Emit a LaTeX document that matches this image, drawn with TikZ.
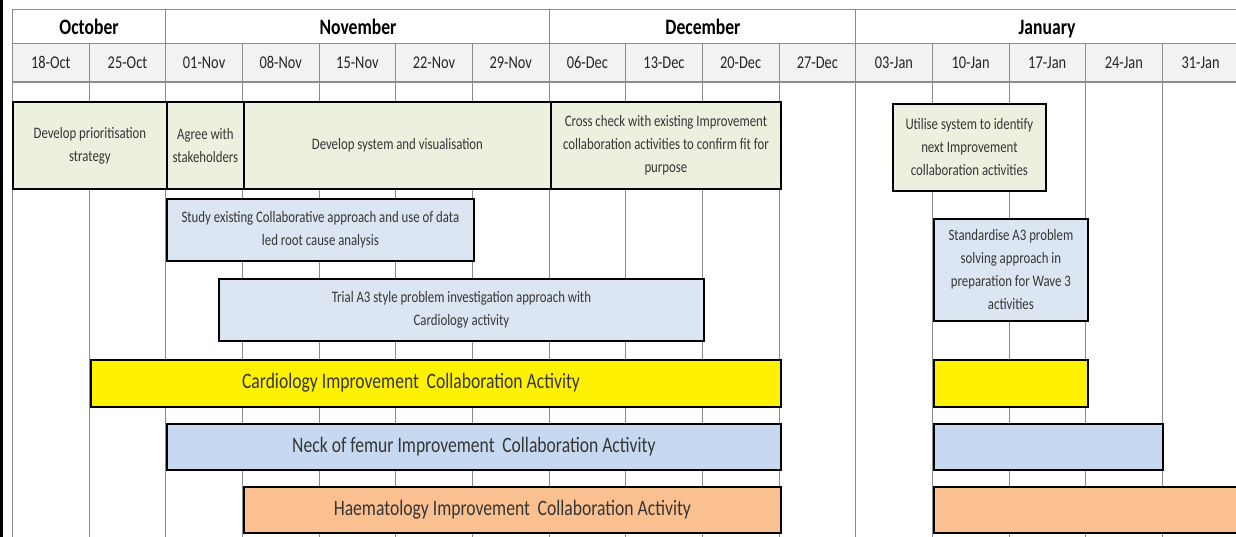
\documentclass[tikz,border=0pt]{standalone}
\usepackage{fontspec}
\setmainfont[FakeStretch=0.8]{Carlito}

\definecolor{gridgray}{HTML}{8C8C8C}
\definecolor{weekgray}{HTML}{F2F2F2}
\definecolor{taskgreen}{HTML}{EBF1DE}
\definecolor{taskblue}{HTML}{DCE6F2}
\definecolor{femurblue}{HTML}{C6D9F1}
\definecolor{haemorange}{HTML}{FAC090}
\definecolor{textgray}{HTML}{363636}

\begin{document}
\begin{tikzpicture}[x=1pt, y=-1pt,
    grid/.style={draw=gridgray, line width=0.8pt},
    month/.style={font=\fontsize{22}{24}\selectfont\bfseries, text height=14pt, text depth=4pt},
    week/.style={font=\fontsize{18}{20}\selectfont, text=black!85, text height=12pt, text depth=3pt},
    task/.style={draw=black, line width=1.8pt, align=center, text=textgray,
        font=\fontsize{16}{23}\selectfont, inner sep=0pt, anchor=north west},
    bar/.style={draw=black, line width=1.8pt, text=textgray,
        font=\fontsize{22}{24}\selectfont, inner sep=0pt, anchor=north west}]
    \useasboundingbox (0,0) rectangle (1236,537);
    \fill[white] (0,0) rectangle (1236,537);
    \fill[black] (0,0) rectangle (3,537);

    % Draw header rows and grid
    \fill[weekgray] (12,43) rectangle (1236,81);
    \draw[grid] (12,9) -- (1236,9);
    \draw[grid] (12,43) -- (1236,43);
    \draw[grid, line width=1.8pt] (12,82) -- (1236,82);
    \draw[grid] (12,9) -- (12,537);
    \foreach \i in {2,7,11}
        \draw[grid] ({12.5+76.65*\i},9) -- ({12.5+76.65*\i},43);
    \foreach \i in {1,...,15}
        \draw[grid] ({12.5+76.65*\i},43) -- ({12.5+76.65*\i},537);

    % Draw month and week labels
    \node[month] (oct) at (89,29.5) {October};
    \node[month] (nov) at (358,29.5) {November};
    \node[month] (dec) at (703,29.5) {December};
    \node[month] (jan) at (1047,29.5) {January};
    \foreach \w [count=\i from 0] in {18-Oct,25-Oct,01-Nov,08-Nov,15-Nov,22-Nov,29-Nov,
        06-Dec,13-Dec,20-Dec,27-Dec,03-Jan,10-Jan,17-Jan,24-Jan,31-Jan}
        \node[week] (w\i) at ({50.8+76.65*\i},64) {\w};

    % Draw planning tasks
    \node[task, fill=taskgreen, minimum width=154pt, minimum height=87pt] (prio) at (12,101)
        {Develop prioritisation\\strategy};
    \node[task, fill=taskgreen, minimum width=77pt, minimum height=87pt] (agree) at (166,101)
        {Agree with\\stakeholders};
    \node[task, fill=taskgreen, minimum width=307pt, minimum height=87pt] (system) at (243,101)
        {Develop system and visualisation};
    \node[task, fill=taskgreen, minimum width=230pt, minimum height=87pt] (cross) at (550,101)
        {Cross check with existing Improvement\\collaboration activities to confirm fit for\\purpose};
    \node[task, fill=taskgreen, minimum width=153pt, minimum height=87pt] (utilise) at (892,103)
        {Utilise system to identify\\next Improvement\\collaboration activities};
    \node[task, fill=taskblue, minimum width=307pt, minimum height=62pt] (study) at (166,198)
        {Study existing Collaborative approach and use of data\\led root cause analysis};
    \node[task, fill=taskblue, minimum width=485pt, minimum height=62pt] (trial) at (218,278)
        {Trial A3 style problem investigation approach with\\Cardiology activity};
    \node[task, fill=taskblue, minimum width=154pt, minimum height=102pt] (standard) at (933,218)
        {Standardise A3 problem\\solving approach in\\preparation for Wave 3\\activities};

    % Draw collaboration activity bars
    \node[bar, fill=yellow, minimum width=690pt, minimum height=47pt] (cardio) at (90,359) {};
    \node[text=textgray, font=\fontsize{22}{24}\selectfont] (cardiotext) at (411,383)
        {Cardiology Improvement\, Collaboration Activity};
    \node[bar, fill=yellow, minimum width=154pt, minimum height=47pt] (cardiojan) at (933,359) {};
    \node[bar, fill=femurblue, minimum width=614pt, minimum height=46pt] (femur) at (166,423)
        {Neck of femur Improvement\, Collaboration Activity};
    \node[bar, fill=femurblue, minimum width=229pt, minimum height=46pt] (femurjan) at (933,423) {};
    \node[bar, fill=haemorange, minimum width=537pt, minimum height=46pt] (haem) at (243,486)
        {Haematology Improvement\, Collaboration Activity};
    \node[bar, fill=haemorange, minimum width=320pt, minimum height=46pt] (haemjan) at (933,486) {};
\end{tikzpicture}
\end{document}
